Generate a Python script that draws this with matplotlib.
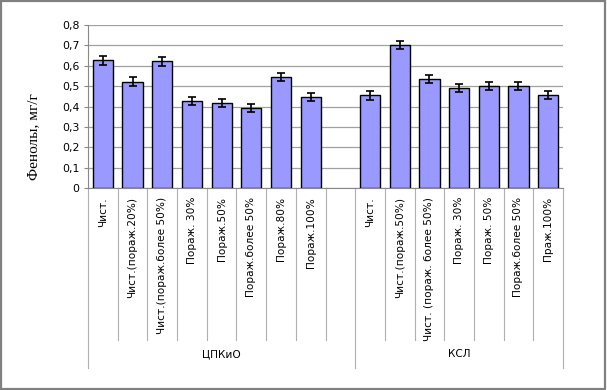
import matplotlib.pyplot as plt
import matplotlib.transforms as mtransforms
from matplotlib.patches import Rectangle
import numpy as np

# data
groups = ['ЦПКиО', 'КСЛ']
labels_cpkio = ['Чист.', 'Чист.(пораж.20%)', 'Чист.(пораж.более 50%)', 'Пораж. 30%',
                'Пораж.50%', 'Пораж.более 50%', 'Пораж.80%', 'Пораж.100%']
labels_ksl = ['Чист.', 'Чист.(пораж.50%)', 'Чист. (пораж. более 50%)', 'Пораж. 30%',
              'Пораж. 50%', 'Пораж.более 50%', 'Праж.100%']
values_cpkio = [0.627, 0.522, 0.622, 0.428, 0.418, 0.393, 0.544, 0.446]
values_ksl = [0.455, 0.702, 0.537, 0.490, 0.500, 0.500, 0.455]
err_cpkio = [0.022, 0.021, 0.023, 0.021, 0.021, 0.021, 0.021, 0.021]
err_ksl = [0.021, 0.019, 0.020, 0.020, 0.020, 0.020, 0.020]

# layout: ЦПКиО group has an empty 9th slot
n1 = len(values_cpkio) + 1
x1 = np.arange(len(values_cpkio))
x2 = np.arange(len(values_ksl)) + n1
ntot = n1 + len(values_ksl)

fig = plt.figure(figsize=(6.07, 3.90), dpi=100)
ax = fig.add_axes([88 / 607, 1 - 188 / 390, 475 / 607, 163 / 390])

bar_kw = dict(width=0.68, color='#9999ff', edgecolor='black', linewidth=1.0,
              error_kw=dict(elinewidth=1.2, capthick=1.2), capsize=3, zorder=3)
ax.bar(x1, values_cpkio, yerr=err_cpkio, **bar_kw)
ax.bar(x2, values_ksl, yerr=err_ksl, **bar_kw)

ax.set_xlim(-0.5, ntot - 0.5)
ax.set_ylim(0, 0.8)
ticks = np.arange(0, 0.81, 0.1)
ax.set_yticks(ticks)
ax.set_yticklabels(['0' if v == 0 else f'{v:.1f}'.replace('.', ',') for v in ticks], fontsize=7.8)
ax.yaxis.grid(True, color='#a0a0a0', linewidth=0.9, zorder=0)
ax.tick_params(axis='y', length=3, color='#888888', pad=3)
ax.set_xticks([])
for s in ['top', 'right']:
    ax.spines[s].set_visible(False)
ax.spines['left'].set_color('#888888')
ax.spines['bottom'].set_color('#888888')

ax.set_ylabel('Фенолы, мг/г', family='Liberation Serif', fontsize=11)
ax.yaxis.set_label_coords(-48 / 475, 1 - 112 / 163)

# category labels and separators below the axis
trans = mtransforms.blended_transform_factory(ax.transData, ax.transAxes)
ax_h = 163
def ypx(p):
    return -p / ax_h

for xs, labs in [(x1, labels_cpkio), (x2, labels_ksl)]:
    for x, lab in zip(xs, labs):
        ax.text(x, ypx(9), lab, transform=trans, rotation=90, ha='center', va='top',
                fontsize=7.6)
sep_short = [i - 0.5 for i in range(ntot + 1) if i not in (0, n1, ntot)]
sep_long = [-0.5, n1 - 0.5, ntot - 0.5]
for s in sep_short:
    ax.plot([s, s], [0, ypx(152)], transform=trans, color='#b0b0b0', lw=0.8, clip_on=False)
for s in sep_long:
    ax.plot([s, s], [0, ypx(180)], transform=trans, color='#b0b0b0', lw=0.8, clip_on=False)
for g, (a, b) in zip(groups, [(-0.5, n1 - 0.5), (n1 - 0.5, ntot - 0.5)]):
    ax.text((a + b) / 2, ypx(166), g, transform=trans, ha='center', va='center', fontsize=7.6)

# chart frame
fig.patches.append(Rectangle((0.002, 0.003), 0.995, 0.994, transform=fig.transFigure,
                             facecolor='white', edgecolor='#808080', linewidth=1.6, zorder=-1))

fig.savefig('out.png', dpi=100)
